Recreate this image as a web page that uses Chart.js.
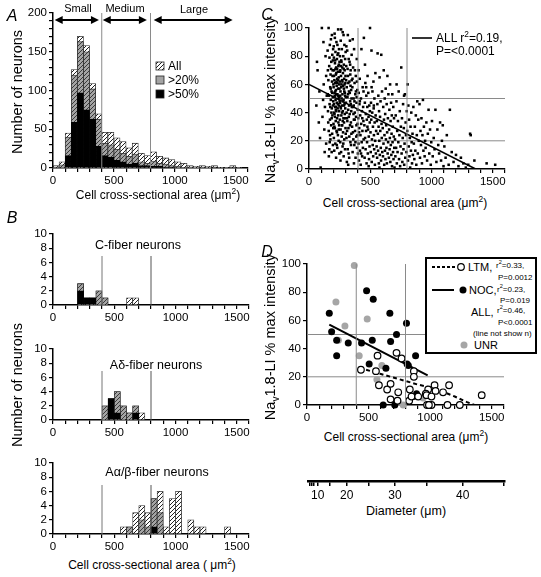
<!DOCTYPE html>
<html>
<head>
<meta charset="utf-8">
<script src="https://cdn.jsdelivr.net/npm/chart.js@4.4.1/dist/chart.umd.min.js"></script>
<style>
  body { margin: 0; background: #fff; }
  #fig { position: relative; width: 541px; height: 577px; overflow: hidden; font-family: 'Liberation Sans', Arial, sans-serif; color: #000; }
  #fig canvas { position: absolute; }
  .t, .lt { position: absolute; white-space: nowrap; font-size: 12px; line-height: 1; }
  .t { transform: translate(-50%, -50%); }
  .lt { transform: translateY(-50%); }
  .v { transform: translate(-50%, -50%) rotate(-90deg); font-size: 14.5px; }
  .p { font-style: italic; font-size: 16px; }
  .s { font-size: 8px; }
  .k { font-size: 11px; }
  .m { font-size: 11px; }
  sup, sub { font-size: 70%; line-height: 0; }
  #legD { position: absolute; left: 425px; top: 257px; width: 112px; height: 97px; box-sizing: border-box; border: 2px solid #000; background: #fff; }
</style>
</head>
<body>
<div id="fig">
  <canvas id="cA"></canvas>
  <canvas id="cB1"></canvas>
  <canvas id="cB2"></canvas>
  <canvas id="cB3"></canvas>
  <canvas id="cC"></canvas>
  <canvas id="cD"></canvas>
  <canvas id="cDiam"></canvas>

  <div class="t p" style="left:12px;top:16px">A</div>
  <div class="t p" style="left:12px;top:218px">B</div>
  <div class="t p" style="left:267px;top:15px">C</div>
  <div class="t p" style="left:267px;top:252px">D</div>

  <div class="t m" style="left:78px;top:8px">Small</div>
  <div class="t m" style="left:125px;top:8px">Medium</div>
  <div class="t m" style="left:194px;top:9px">Large</div>
  <div class="lt" style="left:168px;top:66px">All</div>
  <div class="lt" style="left:168px;top:80px">&gt;20%</div>
  <div class="lt" style="left:168px;top:94px">&gt;50%</div>
  <div class="t v" style="left:17px;top:92px">Number of neurons</div>
  <div class="t" style="left:158px;top:195px">Cell cross-sectional area (&mu;m<sup>2</sup>)</div>

  <div class="t" style="left:138px;top:245px;font-size:12.5px">C-fiber neurons</div>
  <div class="t" style="left:156px;top:365px;font-size:12.5px">A&delta;-fiber neurons</div>
  <div class="t" style="left:157px;top:472px;font-size:12.5px">A&alpha;/&beta;-fiber neurons</div>
  <div class="t v" style="left:17px;top:385px">Number of neurons</div>
  <div class="t" style="left:152px;top:565px">Cell cross-sectional area ( &mu;m<sup>2</sup>)</div>

  <div class="t v" style="left:270px;top:100px">Na<sub>v</sub>1.8-LI % max intensity</div>
  <div class="t" style="left:405px;top:203px">Cell cross-sectional area (&mu;m<sup>2</sup>)</div>
  <div class="lt" style="left:436px;top:38px">ALL r<sup>2</sup>=0.19,</div>
  <div class="lt" style="left:436px;top:51px">P=&lt;0.0001</div>

  <div class="t v" style="left:270px;top:337px">Na<sub>v</sub>1.8-LI % max intensity</div>
  <div class="t" style="left:406px;top:437px">Cell cross-sectional area (&mu;m<sup>2</sup>)</div>
  <div class="t" style="left:406px;top:511px;font-size:12.5px">Diameter (&mu;m)</div>

  <div id="legD"></div>
  <svg style="position:absolute;left:0;top:0" width="541" height="577">
    <line x1="412" y1="38" x2="432" y2="38" stroke="#000" stroke-width="1.6"/>
    <line x1="432" y1="267" x2="455" y2="267" stroke="#000" stroke-width="2" stroke-dasharray="3,2"/>
    <circle cx="461" cy="267" r="3.3" fill="#fff" stroke="#000" stroke-width="1.2"/>
    <line x1="432" y1="290" x2="454" y2="290" stroke="#000" stroke-width="2"/>
    <circle cx="463" cy="290" r="3.5" fill="#000"/>
    <circle cx="464" cy="345" r="3.5" fill="#a6a6a6"/>
  </svg>
  <div class="lt k" style="left:468px;top:267px">LTM,</div>
  <div class="lt s" style="left:496px;top:266px">r<sup>2</sup>=0.33,</div>
  <div class="lt s" style="left:498px;top:278px">P=0.0012</div>
  <div class="lt k" style="left:469px;top:290px">NOC,</div>
  <div class="lt s" style="left:497px;top:290px">r<sup>2</sup>=0.23,</div>
  <div class="lt s" style="left:500px;top:301px">P=0.019</div>
  <div class="lt k" style="left:471px;top:312px">ALL,</div>
  <div class="lt s" style="left:497px;top:311px">r<sup>2</sup>=0.46,</div>
  <div class="lt s" style="left:498px;top:323px">P&lt;0.0001</div>
  <div class="lt s" style="left:473px;top:334px">(line not show n)</div>
  <div class="lt k" style="left:474px;top:345px">UNR</div>
</div>

<script>
// ---- data ----
const binCenters = [25,75,125,175,225,275,325,375,425,475,525,575,625,675,725,775,
  825,875,925,975,1025,1075,1125,1175,1225,1275,1325,1375,1425,1475,1525,1575];

// A: all DRG neurons
const allNeurons = [3,8,45,127,170,158,109,70,46,46,39,34,26,32,19,16,21,15,13,11,8,6,3,2,3,2,3,1,1,3,1,0];
const over20 =     [1,4,40,120,163,150,102,63,32,30,24,19,15,18,8,6,9,6,5,3,2,1,1,0,1,0,0,0,0,0,0,0];
const over50 =     [0,0,16,59,97,75,63,28,16,14,10,8,5,6,3,3,2,2,1,1,0,0,0,0,0,0,0,0,0,0,0,0];

// B: by conduction velocity group
const cFiberAll = [0,0,0,0,3,1,1,2,1,0,0,0,1,1,0,0,0,0,0,0,0,0,0,0,0,0,0,0,0,0,0,0];
const cFiber20  = [0,0,0,0,3,1,1,2,1,0,0,0,0,0,0,0,0,0,0,0,0,0,0,0,0,0,0,0,0,0,0,0];
const cFiber50  = [0,0,0,0,2,1,1,0,0,0,0,0,0,0,0,0,0,0,0,0,0,0,0,0,0,0,0,0,0,0,0,0];
const aDeltaAll = [0,0,0,0,0,0,0,0,2,3,4,2,1,2,1,0,0,0,0,0,0,0,0,0,0,0,0,0,0,0,0,0];
const aDelta20  = [0,0,0,0,0,0,0,0,2,3,4,2,1,2,0,0,0,0,0,0,0,0,0,0,0,0,0,0,0,0,0,0];
const aDelta50  = [0,0,0,0,0,0,0,0,0,3,1,0,0,1,0,0,0,0,0,0,0,0,0,0,0,0,0,0,0,0,0,0];
const aAlphaAll = [0,0,0,0,0,0,0,0,0,0,0,1,1,3,4,3,5,6,1,5,6,0,2,1,1,0,0,0,1,0,0,0];
const aAlpha20  = [0,0,0,0,0,0,0,0,0,0,0,0,1,0,2,1,5,3,0,0,0,0,0,0,0,0,0,0,0,0,0,0];
const aAlpha50  = [0,0,0,0,0,0,0,0,0,0,0,0,0,0,0,0,1,0,0,0,0,0,0,0,0,0,0,0,0,0,0,0];

// C: every neuron, [area, % max intensity]
const cPoints = [
  [60,45],[65,76],[70,70],[80,33],[85,55],[95,1],[90,22],[105,100],[110,37],[115,49],[120,60],[125,28],[130,44],[135,80],[140,18],[145,52],[140,66],[128,12],[118,90],
  [152,84],[155,41],[158,63],[160,100],[161,27],[163,52],[165,73],[166,14],[168,46],[170,88],[171,35],[173,58],[175,21],[176,67],[178,49],[179,92],[181,31],[182,76],[184,55],[185,12],[186,43],[188,62],[189,25],[190,81],[191,38],[193,70],[194,51],[195,17],[196,45],[197,85],[198,29],[199,60],[154,70],[157,33],[162,9],[167,79],[172,24],[177,57],[183,40],[187,95],[192,66],[198,48],[153,53],[169,19],[174,44],[180,71],[185,36],[190,54],[195,77],[200,32],
  [201,58],[202,87],[203,22],[204,46],[205,70],[206,13],[207,63],[208,39],[209,96],[210,52],[211,29],[212,75],[213,44],[214,61],[215,18],[216,83],[217,49],[218,34],[219,67],[220,56],[221,8],[222,72],[223,41],[224,90],[225,27],[226,59],[227,47],[228,78],[229,36],[230,64],[231,15],[232,53],[233,81],[234,43],[235,69],[236,24],[237,57],[238,99],[239,38],[240,73],[241,50],[242,20],[243,65],[244,45],[245,85],[246,31],[247,60],[248,11],[249,76],[250,48],[204,66],[208,54],[212,37],[216,71],[220,44],[224,62],[228,26],[232,88],[236,52],[240,33],[244,74],[248,57],[203,79],[207,30],[211,93],[215,55],[219,42],[223,68],[227,17],[231,61],[235,46],[239,82],[243,28],[247,51],[205,40],[214,77],[222,53],[230,71],[238,63],[246,41],
  [251,62],[252,35],[253,80],[254,47],[255,19],[256,70],[257,55],[258,28],[259,91],[260,43],[261,66],[262,12],[263,58],[264,38],[265,76],[266,50],[267,23],[268,85],[269,45],[270,63],[271,31],[272,72],[273,53],[274,16],[275,97],[276,41],[277,68],[278,26],[279,59],[280,80],[281,36],[282,49],[283,9],[284,74],[285,57],[286,33],[287,64],[288,21],[289,88],[290,46],[291,70],[292,39],[293,54],[294,14],[295,78],[296,43],[297,61],[298,29],[299,83],[300,51],[253,69],[258,44],[263,77],[268,31],[273,62],[278,48],[283,71],[288,55],[293,36],[298,66],[255,52],[265,60],[275,34],[285,45],[295,52],[260,73],[270,40],[280,18],[290,60],[300,25],[257,6],[282,95],[262,99],
  [302,47],[304,73],[306,22],[308,58],[310,36],[312,84],[314,51],[316,14],[318,66],[320,42],[322,29],[324,78],[326,55],[328,8],[330,62],[332,39],[334,91],[336,48],[338,19],[340,70],[342,33],[344,56],[346,25],[348,81],[350,44],[303,63],[307,40],[311,27],[315,71],[319,53],[323,11],[327,45],[331,76],[335,31],[339,59],[343,17],[347,50],[305,87],[313,34],[321,61],[329,23],[337,67],[345,41],[309,5],[317,95],[325,37],[333,54],[341,46],[349,63],[320,3],[336,74],
  [352,30],[354,58],[356,12],[358,44],[360,72],[362,21],[364,50],[366,35],[368,85],[370,17],[372,61],[374,40],[376,27],[378,53],[380,8],[382,66],[384,37],[386,23],[388,47],[390,78],[392,15],[394,56],[396,32],[398,42],[355,64],[359,26],[363,39],[367,4],[371,48],[375,70],[379,19],[383,55],[387,31],[391,62],[395,24],[399,11],[357,92],[373,35],[389,51],[365,45],
  [402,36],[404,18],[406,54],[408,6],[410,29],[412,46],[414,64],[416,13],[418,38],[420,24],[422,3],[424,50],[426,32],[428,85],[430,19],[432,41],[434,9],[436,27],[438,58],[440,15],[442,44],[444,34],[446,21],[448,93],[405,70],[415,48],[425,11],[435,36],[445,55],[409,26],
  [452,31],[454,8],[456,47],[458,22],[460,61],[462,14],[464,39],[466,27],[468,52],[470,4],[472,35],[474,19],[476,44],[478,66],[480,11],[482,28],[484,54],[486,37],[488,23],[490,7],[492,45],[494,16],[496,33],[498,100],[457,74],[467,58],[477,30],[487,2],[497,41],
  [502,26],[504,12],[506,47],[508,35],[510,84],[512,5],[514,21],[516,40],[518,55],[520,17],[522,30],[524,9],[526,62],[528,43],[530,24],[532,14],[534,50],[536,33],[538,3],[540,20],[542,68],[544,38],[546,11],[548,27],[511,58],[529,45],
  [552,16],[554,34],[556,8],[558,46],[560,82],[562,25],[564,13],[566,52],[568,30],[570,4],[572,41],[574,20],[576,65],[578,10],[580,37],[582,27],[584,48],[586,15],[588,6],[590,81],[592,32],[594,22],[596,55],[598,12],[575,1],
  [602,29],[604,9],[606,44],[608,18],[610,70],[612,35],[614,3],[616,24],[618,50],[620,13],[622,39],[624,7],[626,57],[628,21],[630,31],[632,15],[634,46],[636,4],[638,26],[640,66],[642,11],[644,36],[646,19],[648,53],
  [652,8],[654,28],[656,42],[658,14],[660,22],[662,60],[664,5],[666,34],[668,17],[670,47],[672,10],[674,25],[676,38],[678,2],[680,53],[682,19],[684,30],[686,12],[688,44],[690,7],[692,23],[694,36],[696,15],[698,1],
  [702,21],[705,9],[708,38],[711,15],[714,48],[717,4],[720,27],[723,12],[726,34],[729,19],[732,55],[735,7],[738,24],[741,41],[744,2],[747,16],[750,30],[715,60],
  [753,72],[756,11],[759,36],[762,5],[765,22],[768,46],[771,14],[774,29],[777,3],[780,18],[783,53],[786,8],[789,33],[792,24],[795,12],[798,41],[776,52],
  [802,27],[805,60],[808,6],[811,45],[814,16],[817,35],[820,9],[823,22],[826,1],[829,30],[832,13],[835,40],[838,19],[841,4],[845,25],[848,10],
  [852,44],[856,18],[860,7],[864,30],[868,13],[872,38],[876,3],[880,24],[884,48],[888,11],[892,35],[896,20],
  [902,46],[906,8],[910,27],[914,17],[918,36],[922,4],[926,24],[930,49],[934,13],[938,30],[944,9],[948,20],
  [952,15],[958,33],[964,6],[970,25],[976,42],[982,11],[988,28],[994,3],[998,19],
  [1004,34],[1010,9],[1018,22],[1025,14],[1032,42],[1040,5],[1048,28],[1055,17],[1062,11],[1070,33],[1078,6],[1085,20],[1092,31],[1098,2],
  [1105,16],[1115,8],[1125,24],[1140,3],[1150,42],[1165,12],[1180,5],[1200,10],[1220,2],[1240,8],[1260,4],[1280,1],[1300,3],[1315,25],[1320,24],[1350,6],[1450,4],[1520,3]
];
const cFit = [[0,60],[1360,0]];

// D: identified neurons
const ltmPoints = [[438,25],[573,35],[560,24],[584,14],[651,11],[727,37],[768,33],[868,24],[868,20],[679,15],
  [1036,14],[1154,14],[984,11],[1044,10],[1105,9],[965,8],[741,9],[679,4],[735,3],[830,3],[849,6],[903,6],
  [971,7],[1011,6],[975,0],[1011,0],[990,0],[1141,0],[1241,0],[1419,7],[835,11]];
const nocPoints = [[181,65],[200,52],[241,46],[241,35],[335,44],[443,44],[484,81],[538,75],[530,46],[505,29],
  [641,26],[673,65],[679,45],[727,50],[808,58],[882,35],[813,29],[823,28],[619,0],[713,0],[862,6],[890,8]];
const unrPoints = [[384,99],[235,73],[308,56],[489,61],[255,46],[424,35],[608,28],[568,18],[741,2],[781,0],[943,5]];
const ltmFit = [[480,25],[600,22],[700,19.5],[800,17],[900,14.5],[1000,12.5],[1100,9.5],[1200,6],[1300,2],[1360,0]];
const nocFit = [[181,57],[980,21]];

// diameter axis (um) drawn on the area scale
const diamTicks = [4,6,8,10,15,20,25,30,35,40,45];
const diamLabels = [10,20,30,40];

// size classes in A
const sizeClassEdges = [[14,377],[408,770],[826,1474]];

// ---- helpers ----
Chart.defaults.font.family = "'Liberation Sans', Arial, sans-serif";
Chart.defaults.font.size = 11.5;
Chart.defaults.color = '#000';
Chart.defaults.animation = false;
Chart.defaults.responsive = false;
Chart.defaults.plugins.legend.display = false;
Chart.defaults.plugins.tooltip.enabled = false;

function hatch(bg, fg) {
  const c = document.createElement('canvas');
  c.width = 4; c.height = 4;
  const g = c.getContext('2d');
  g.fillStyle = bg; g.fillRect(0, 0, 4, 4);
  g.strokeStyle = fg; g.lineWidth = 1;
  g.beginPath();
  g.moveTo(0, 4); g.lineTo(4, 0);
  g.moveTo(-1, 1); g.lineTo(1, -1);
  g.moveTo(3, 5); g.lineTo(5, 3);
  g.stroke();
  return g.createPattern(c, 'repeat');
}
const whiteHatch = hatch('#ffffff', '#222222');
const grayHatch = hatch('#a4a4a4', '#3a3a3a');

function place(id, box, area) {
  const cv = document.getElementById(id);
  cv.width = box[2]; cv.height = box[3];
  cv.style.left = box[0] + 'px'; cv.style.top = box[1] + 'px';
  return {
    padding: { left: 0, top: area[1] - box[1], right: box[0] + box[2] - area[2], bottom: 0 },
    yw: area[0] - box[0],
    xh: box[1] + box[3] - area[3]
  };
}

function xAxis(h) {
  return {
    type: 'linear', min: 0, max: 1600, offset: false,
    border: { color: '#000', width: 1.5 },
    grid: { drawOnChartArea: false, drawTicks: true, tickLength: 4, color: '#000', lineWidth: 1.2, offset: false },
    ticks: { stepSize: 100, autoSkip: false, maxRotation: 0, padding: 2,
      callback: v => v % 500 === 0 ? v : '' },
    afterFit: s => { s.height = h; }
  };
}
function yAxis(w, max, step, labelStep) {
  return {
    min: 0, max: max,
    border: { color: '#000', width: 1.5 },
    grid: { drawOnChartArea: false, drawTicks: true, tickLength: 4, color: '#000', lineWidth: 1.2 },
    ticks: { stepSize: step, autoSkip: false, padding: 2,
      callback: v => v % labelStep === 0 ? v : '' },
    afterFit: s => { s.width = w; }
  };
}
const xy = arr => arr.map(p => ({ x: p[0], y: p[1] }));
const bins = arr => arr.map((v, i) => ({ x: binCenters[i], y: v }));
function vline(x, y0, y1, color) {
  return { type: 'line', data: [{ x: x, y: y0 }, { x: x, y: y1 }], borderColor: color || '#8a8a8a',
    borderWidth: 1, pointRadius: 0, order: 0 };
}
function hline(y, x0, x1) {
  return { type: 'line', data: [{ x: x0, y: y }, { x: x1, y: y }], borderColor: '#8a8a8a',
    borderWidth: 1, pointRadius: 0, order: 5 };
}
function histSets(all, g20, g50) {
  const base = { type: 'bar', grouped: false, barPercentage: 1, categoryPercentage: 1, borderWidth: 0.8 };
  return [
    Object.assign({ label: '>50%', data: bins(g50), backgroundColor: '#000', borderColor: '#000', order: 1 }, base),
    Object.assign({ label: '>20%', data: bins(g20), backgroundColor: grayHatch, borderColor: '#333', order: 2 }, base),
    Object.assign({ label: 'All', data: bins(all), backgroundColor: whiteHatch, borderColor: '#333', order: 3 }, base)
  ];
}

const arrowPlugin = {
  id: 'sizeArrows',
  afterDraw(chart) {
    const ctx = chart.ctx, x = chart.scales.x, y = 20;
    ctx.save();
    ctx.strokeStyle = '#000'; ctx.fillStyle = '#000'; ctx.lineWidth = 2;
    sizeClassEdges.forEach(([a, b]) => {
      const x1 = x.getPixelForValue(a), x2 = x.getPixelForValue(b);
      ctx.beginPath(); ctx.moveTo(x1 + 5, y); ctx.lineTo(x2 - 5, y); ctx.stroke();
      ctx.beginPath(); ctx.moveTo(x1, y); ctx.lineTo(x1 + 8, y - 4); ctx.lineTo(x1 + 8, y + 4); ctx.closePath(); ctx.fill();
      ctx.beginPath(); ctx.moveTo(x2, y); ctx.lineTo(x2 - 8, y - 4); ctx.lineTo(x2 - 8, y + 4); ctx.closePath(); ctx.fill();
    });
    // legend swatches
    [[62, whiteHatch], [76, '#a4a4a4'], [90, '#000']].forEach(([top, fill]) => {
      ctx.fillStyle = fill; ctx.fillRect(156, top, 8, 8);
      ctx.strokeStyle = '#222'; ctx.lineWidth = 0.8; ctx.strokeRect(156, top, 8, 8);
    });
    ctx.restore();
  }
};

// ---- A ----
let f = place('cA', [0, 0, 270, 187], [53, 13, 248, 168]);
new Chart('cA', {
  type: 'bar',
  data: { datasets: histSets(allNeurons, over20, over50).concat([vline(400, 0, 200), vline(800, 0, 200)]) },
  options: { layout: { padding: f.padding },
    scales: { x: xAxis(f.xh), y: yAxis(f.yw, 200, 10, 50) } },
  plugins: [arrowPlugin]
});

// ---- B ----
function fiberChart(id, box, area, all, g20, g50) {
  const f = place(id, box, area);
  new Chart(id, {
    type: 'bar',
    data: { datasets: histSets(all, g20, g50).concat([vline(400, 0, 6.9, '#777'), vline(800, 0, 6.9, '#555')]) },
    options: { layout: { padding: f.padding },
      scales: { x: xAxis(f.xh), y: yAxis(f.yw, 10, 2, 2) } }
  });
}
fiberChart('cB1', [0, 222, 270, 104], [53, 234, 249, 305], cFiberAll, cFiber20, cFiber50);
fiberChart('cB2', [0, 337, 270, 104], [53, 349, 249, 420], aDeltaAll, aDelta20, aDelta50);
fiberChart('cB3', [0, 451, 270, 104], [53, 463, 249, 534], aAlphaAll, aAlpha20, aAlpha50);

// ---- C ----
f = place('cC', [270, 0, 271, 187], [309, 28, 505, 169]);
new Chart('cC', {
  type: 'scatter',
  data: { datasets: [
    { data: xy(cPoints), pointStyle: 'rect', pointRadius: 1.8, pointBorderWidth: 0, backgroundColor: '#000', clip: false, order: 1 },
    { type: 'line', data: xy(cFit), borderColor: '#000', borderWidth: 1.6, pointRadius: 0, order: 2 },
    vline(400, 0, 100), vline(800, 0, 100), hline(50, 0, 1600), hline(20, 0, 1600)
  ] },
  options: { layout: { padding: f.padding },
    scales: { x: xAxis(f.xh), y: yAxis(f.yw, 100, 20, 20) } }
});

// ---- D ----
f = place('cD', [270, 240, 271, 187], [307, 264, 504, 405]);
new Chart('cD', {
  type: 'scatter',
  data: { datasets: [
    { data: xy(ltmPoints), pointRadius: 3.3, pointBorderWidth: 1.2, borderColor: '#000', backgroundColor: '#fff', clip: false, order: 1 },
    { data: xy(nocPoints), pointRadius: 3.5, pointBorderWidth: 0, backgroundColor: '#000', clip: false, order: 1 },
    { data: xy(unrPoints), pointRadius: 3.5, pointBorderWidth: 0, backgroundColor: '#a6a6a6', clip: false, order: 3 },
    { type: 'line', data: xy(ltmFit), borderColor: '#000', borderWidth: 2, borderDash: [4, 3], pointRadius: 0, order: 2 },
    { type: 'line', data: xy(nocFit), borderColor: '#000', borderWidth: 2, pointRadius: 0, order: 2 },
    vline(400, 0, 100), vline(800, 0, 100), hline(50, 0, 1600), hline(20, 0, 1600)
  ] },
  options: { layout: { padding: f.padding },
    scales: { x: xAxis(f.xh), y: yAxis(f.yw, 100, 20, 20) } }
});

// ---- diameter axis ----
f = place('cDiam', [270, 462, 271, 40], [308, 470, 505, 481]);
const dx = xAxis(f.xh);
dx.border.width = 2.5;
dx.grid.tickLength = 5;
dx.grid.lineWidth = 1.5;
dx.ticks = { autoSkip: false, maxRotation: 0, padding: 2, font: { size: 12 },
  callback: (v, i) => diamLabels.includes(diamTicks[i]) ? String(diamTicks[i]) : '' };
dx.afterBuildTicks = s => { s.ticks = diamTicks.map(d => ({ value: Math.PI * d * d / 4 })); };
new Chart('cDiam', {
  type: 'scatter',
  data: { datasets: [{ data: [] }] },
  options: { layout: { padding: Object.assign(f.padding, { left: f.yw }) },
    scales: { x: dx, y: { display: false, min: 0, max: 1 } } }
});
</script>
</body>
</html>
